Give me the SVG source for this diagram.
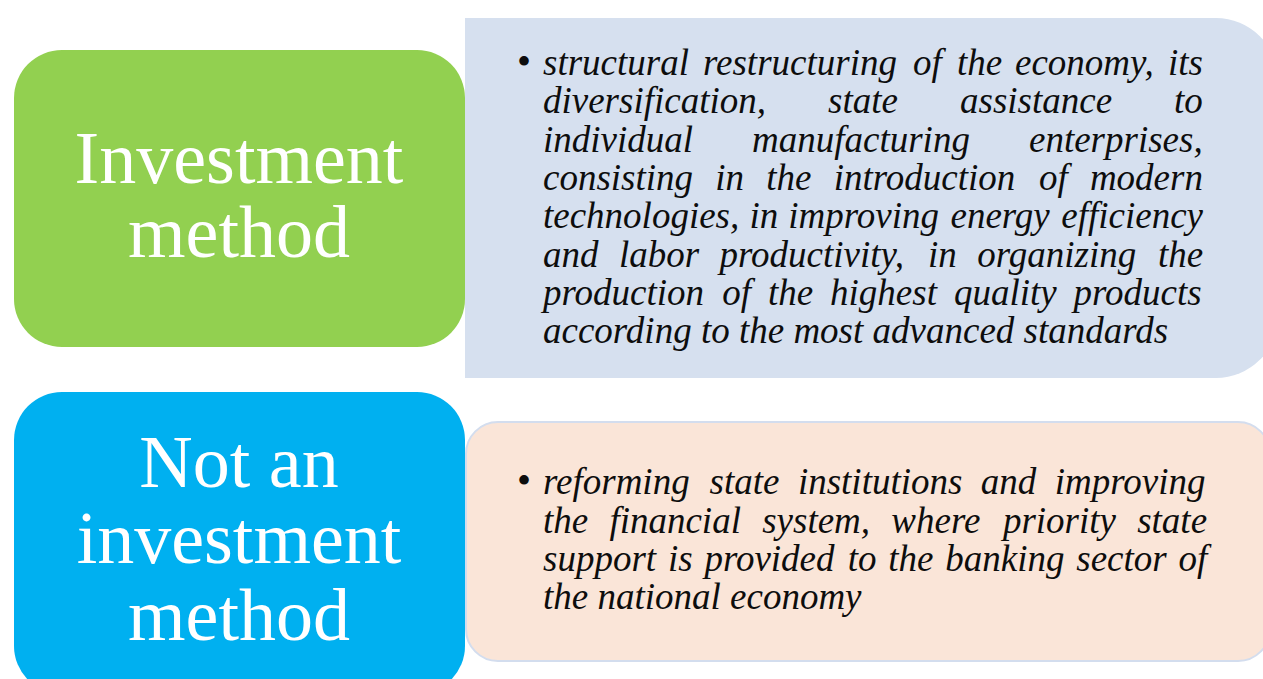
<svg xmlns="http://www.w3.org/2000/svg" width="1263" height="679" viewBox="0 0 1263 679">
<style>
.label{font-family:"Liberation Serif","Times New Roman",serif;font-size:74px;fill:#ffffff;text-anchor:middle}
.body{font-family:"Liberation Serif","Times New Roman",serif;font-size:37px;font-style:italic;fill:#0d0d0d}
.bullet{font-family:"Liberation Serif","Times New Roman",serif;font-size:40px;fill:#0d0d0d}
</style>
<rect width="1263" height="679" fill="#ffffff"/>
<g id="panel-investment">
<rect x="465" y="18" width="813" height="360" rx="62" ry="62" fill="#D6E0EF"/>
<rect x="465" y="18" width="80" height="360" fill="#D6E0EF"/>
<text class="bullet" x="517" y="75">•</text>
<text class="body">
<tspan x="543" y="75">structural</tspan><tspan x="703" y="75">restructuring</tspan><tspan x="913" y="75">of</tspan><tspan x="957" y="75">the</tspan><tspan x="1015" y="75">economy,</tspan><tspan x="1168" y="75">its</tspan>
<tspan x="543" y="113">diversification,</tspan><tspan x="828" y="113">state</tspan><tspan x="960" y="113">assistance</tspan><tspan x="1174" y="113">to</tspan>
<tspan x="543" y="152">individual</tspan><tspan x="752" y="152">manufacturing</tspan><tspan x="1029" y="152">enterprises,</tspan>
<tspan x="543" y="190">consisting</tspan><tspan x="715.3" y="190">in</tspan><tspan x="766.3" y="190">the</tspan><tspan x="833.7" y="190">introduction</tspan><tspan x="1038.9" y="190">of</tspan><tspan x="1089.9" y="190">modern</tspan>
<tspan x="543" y="228">technologies,</tspan><tspan x="749.4" y="228">in</tspan><tspan x="788.3" y="228">improving</tspan><tspan x="950.5" y="228">energy</tspan><tspan x="1061.3" y="228">efficiency</tspan>
<tspan x="543" y="267">and</tspan><tspan x="618.9" y="267">labor</tspan><tspan x="719.5" y="267">productivity,</tspan><tspan x="928" y="267">in</tspan><tspan x="977.2" y="267">organizing</tspan><tspan x="1158" y="267">the</tspan>
<tspan x="543" y="305">production</tspan><tspan x="722.3" y="305">of</tspan><tspan x="768" y="305">the</tspan><tspan x="830.1" y="305">highest</tspan><tspan x="953.9" y="305">quality</tspan><tspan x="1073.6" y="305">products</tspan>
<tspan x="543" y="343">according to the most advanced standards</tspan>
</text>
</g>
<g id="panel-not-investment">
<rect x="466" y="422" width="804" height="239" rx="32" ry="32" fill="#FAE5D8" stroke="#D3DDEE" stroke-width="2"/>
<text class="bullet" x="517" y="494">•</text>
<text class="body">
<tspan x="543" y="494">reforming</tspan><tspan x="709.5" y="494">state</tspan><tspan x="797.9" y="494">institutions</tspan><tspan x="980.8" y="494">and</tspan><tspan x="1054.8" y="494">improving</tspan>
<tspan x="543" y="533">the</tspan><tspan x="609.4" y="533">financial</tspan><tspan x="762.2" y="533">system,</tspan><tspan x="891.3" y="533">where</tspan><tspan x="1002.9" y="533">priority</tspan><tspan x="1137.2" y="533">state</tspan>
<tspan x="543" y="571">support</tspan><tspan x="667.9" y="571">is</tspan><tspan x="704.4" y="571">provided</tspan><tspan x="847.7" y="571">to</tspan><tspan x="888.3" y="571">the</tspan><tspan x="945.3" y="571">banking</tspan><tspan x="1076.3" y="571">sector</tspan><tspan x="1178.5" y="571">of</tspan>
<tspan x="543" y="609">the national economy</tspan>
</text>
</g>
<g id="node-investment-method">
<rect x="14" y="50" width="451" height="297" rx="48" ry="48" fill="#92D050"/>
<text class="label" x="239" y="183">Investment</text>
<text class="label" x="239" y="257">method</text>
</g>
<g id="node-not-investment-method">
<rect x="14" y="392" width="451" height="302" rx="48" ry="48" fill="#00B0F0"/>
<text class="label" x="239" y="487">Not an</text>
<text class="label" x="239" y="563">investment</text>
<text class="label" x="239" y="640">method</text>
</g>
<g id="connectors"/>
</svg>
